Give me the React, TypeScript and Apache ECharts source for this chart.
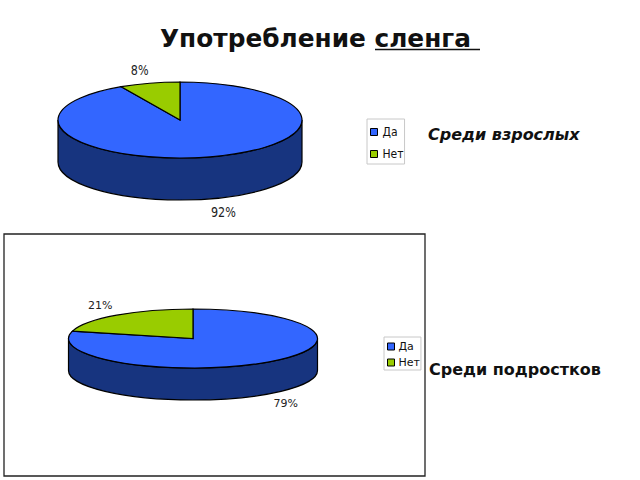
import React, { useEffect, useRef } from "react";
import * as echarts from "echarts";

const titleText = "Употребление сленга ";
const categories = ["Да", "Нет"];
const adultValues = [92, 8];
const teenValues = [79, 21];
const adultCaption = "Среди взрослых";
const teenCaption = "Среди подростков";

const colors = ["#3366ff", "#99cc00"];
const wallColors = ["#17347f", "#4d6600"];

type Pie = { cx: number; cy: number; rx: number; ry: number; depth: number; labelDx: number; labelDy: number; labelShift: number; labelScale: number; labelFont: string };

const adultPie: Pie = { cx: 180, cy: 120, rx: 122, ry: 38, depth: 42, labelDx: 11.5, labelDy: 13, labelShift: 1.5, labelScale: 0.8, labelFont: "14px 'DejaVu Sans',sans-serif" };
const teenPie: Pie = { cx: 193, cy: 338.5, rx: 124.5, ry: 29.5, depth: 32, labelDx: 16.5, labelDy: 10, labelShift: 0, labelScale: 1, labelFont: "11px 'DejaVu Sans',sans-serif" };

const TAU = Math.PI * 2;

function pt(p: Pie, a: number, dy = 0) {
  return [p.cx + p.rx * Math.sin(a), p.cy - p.ry * Math.cos(a) + dy].map((n) => +n.toFixed(2));
}

function arc(p: Pie, a0: number, a1: number, dy: number) {
  const [x, y] = pt(p, a1, dy);
  const sweep = a1 > a0 ? 1 : 0;
  const large = Math.abs(a1 - a0) > Math.PI ? 1 : 0;
  return `A${p.rx} ${p.ry} 0 ${large} ${sweep} ${x} ${y}`;
}

function slicePath(p: Pie, a0: number, a1: number) {
  const [x0, y0] = pt(p, a0);
  return `M${p.cx} ${p.cy}L${x0} ${y0}${arc(p, a0, a1, 0)}Z`;
}

function wallPath(p: Pie, a0: number, a1: number) {
  const s = Math.max(a0, Math.PI / 2);
  const e = Math.min(a1, (Math.PI * 3) / 2);
  if (e <= s) return null;
  const [x0, y0] = pt(p, s);
  const [x1, y1] = pt(p, e, p.depth);
  return `M${x0} ${y0}${arc(p, s, e, 0)}L${x1} ${y1}${arc(p, e, s, p.depth)}Z`;
}

function pieSeries(values: number[], p: Pie) {
  const total = values.reduce((a, b) => a + b, 0);
  return values.map((v, i) => {
    const before = values.slice(0, i).reduce((a, b) => a + b, 0);
    return {
      type: "custom",
      name: categories[i],
      coordinateSystem: "none",
      silent: true,
      itemStyle: { color: colors[i] },
      data: [[v]],
      renderItem: (_: unknown, api: any) => {
        const val = api.value(0);
        const a0 = (before / total) * TAU;
        const a1 = ((before + val) / total) * TAU;
        const mid = (a0 + a1) / 2;
        const children: any[] = [];
        const wall = wallPath(p, a0, a1);
        if (wall) {
          children.push({ type: "path", shape: { pathData: wall }, style: { fill: wallColors[i], stroke: "#000", lineWidth: 1.2 } });
        }
        children.push({ type: "path", shape: { pathData: slicePath(p, a0, a1) }, style: { fill: colors[i], stroke: "#000", lineWidth: 1.2 } });
        const [lx, ly] = pt(p, mid, Math.cos(mid) < 0 ? p.depth : 0);
        children.push({
          type: "text",
          x: lx + Math.sign(Math.sin(mid)) * p.labelDx + p.labelShift,
          y: ly + (Math.cos(mid) < 0 ? p.labelDy : -p.labelDy),
          scaleX: p.labelScale,
          style: { text: `${Math.round((val / total) * 100)}%`, fill: "#222", font: p.labelFont, align: "center", verticalAlign: "middle" },
        });
        return { type: "group", children };
      },
    };
  });
}

function legendOf(left: number, top: number, font: string, size: number, gap: number, pad: number[], textPad: number) {
  return {
    show: true,
    orient: "vertical",
    left,
    top,
    data: categories,
    icon: "rect",
    itemWidth: 7,
    itemHeight: 7,
    itemGap: gap,
    selectedMode: false,
    padding: pad,
    borderColor: "#c8c8c8",
    borderWidth: 1,
    itemStyle: { borderColor: "#000", borderWidth: 1 },
    textStyle: { fontFamily: font, fontSize: size, color: "#111", padding: [0, 0, 0, textPad] },
  };
}

export default function App() {
  const ref = useRef<HTMLDivElement>(null);
  useEffect(() => {
    document.body.style.margin = "0";
    const chart = echarts.init(ref.current!, null, { renderer: "svg" });
    chart.setOption({
      animation: false,
      backgroundColor: "#fff",
      title: {
        text: titleText,
        left: 160,
        top: 26,
        padding: 0,
        textStyle: { fontFamily: "'DejaVu Sans',sans-serif", fontWeight: "bold", fontSize: 24.8, color: "#111" },
      },
      legend: [
        legendOf(367, 119, "'DejaVu Sans Condensed','Liberation Sans Narrow',sans-serif", 12, 10, [7, 1, 4, 3], 0),
        legendOf(384, 337, "'DejaVu Sans',sans-serif", 11, 5, [4, 1, 2, 3], -1),
      ],
      graphic: [
        { type: "rect", z: -1, shape: { x: 4, y: 234, width: 421, height: 242 }, style: { fill: "#fff", stroke: "#222", lineWidth: 1.3 } },
        { type: "line", shape: { x1: 375, y1: 49.5, x2: 480, y2: 49.5 }, style: { stroke: "#111", lineWidth: 1.6 } },
        { type: "text", x: 428, y: 134, style: { text: adultCaption, fill: "#111", font: "italic bold 16px 'DejaVu Sans',sans-serif", verticalAlign: "middle" } },
        { type: "text", x: 429, y: 369, style: { text: teenCaption, fill: "#111", font: "bold 16px 'DejaVu Sans',sans-serif", verticalAlign: "middle" } },
      ],
      series: [...pieSeries(adultValues, adultPie), ...pieSeries(teenValues, teenPie)],
    });
    return () => chart.dispose();
  }, []);
  return <div ref={ref} style={{ width: 640, height: 480 }} />;
}
